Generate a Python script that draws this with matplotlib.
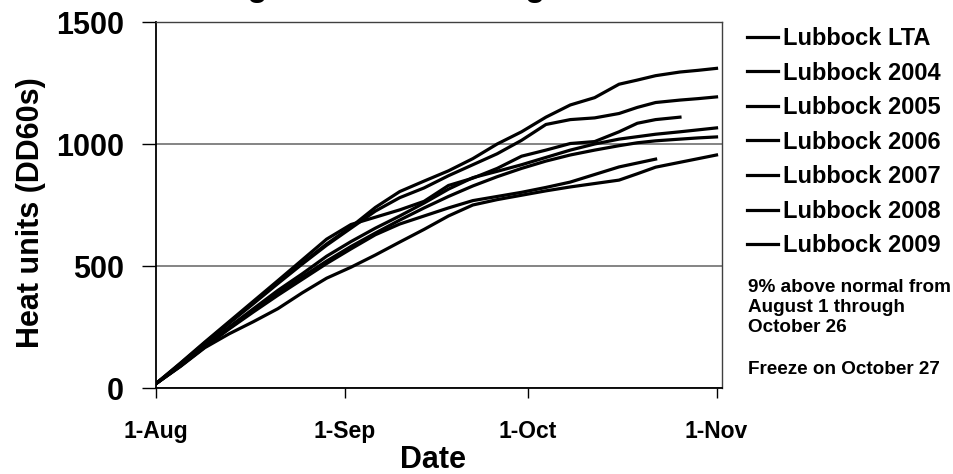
import matplotlib.pyplot as plt

plt.rcParams['font.family'] = ['Liberation Sans', 'DejaVu Sans']
plt.rcParams['font.weight'] = 'bold'
plt.rcParams['axes.labelweight'] = 'bold'

# days after August 1
days = [0, 4, 8, 12, 16, 20, 24, 28, 32, 36, 40, 44, 48, 52, 56, 60, 64, 68, 72, 76, 79, 82, 86, 89, 92]

# cumulative heat units (DD60s)
lta = [18, 90, 168, 244, 318, 388, 455, 520, 580, 635, 688, 738, 785, 828, 866, 900, 930, 955, 975, 993, 1005, 1013, 1020, 1025, 1029]
y2004 = [18, 100, 185, 268, 350, 432, 512, 590, 660, 740, 805, 848, 890, 940, 1000, 1050, 1110, 1160, 1190, 1245, 1262, 1280, 1295, 1302, 1310]
y2005 = [18, 98, 182, 265, 346, 428, 508, 585, 655, 725, 780, 820, 870, 915, 960, 1015, 1080, 1100, 1107, 1125, 1150, 1170, 1180, 1186, 1193]
y2006 = [18, 92, 172, 250, 325, 400, 468, 540, 600, 655, 705, 758, 815, 862, 888, 915, 945, 975, 1000, 1020, 1030, 1040, 1050, 1058, 1066]
y2007 = [18, 90, 168, 242, 312, 380, 445, 510, 570, 628, 672, 705, 738, 768, 785, 802, 822, 844, 875, 906, 922, 938]
y2008 = [18, 88, 165, 222, 272, 325, 390, 450, 495, 545, 598, 650, 705, 750, 772, 790, 808, 824, 838, 852, 878, 905, 925, 940, 955]
y2009 = [18, 102, 188, 272, 356, 440, 525, 610, 670, 700, 730, 765, 830, 860, 900, 950, 975, 1002, 1010, 1050, 1085, 1100, 1110]

labels = ['Lubbock LTA', 'Lubbock 2004', 'Lubbock 2005', 'Lubbock 2006',
          'Lubbock 2007', 'Lubbock 2008', 'Lubbock 2009']
series = [lta, y2004, y2005, y2006, y2007, y2008, y2009]

tick_days = [0, 31, 61, 92]
tick_labels = ['1-Aug', '1-Sep', '1-Oct', '1-Nov']

fig = plt.figure(figsize=(9.54, 4.74), dpi=100)
ax = fig.add_axes([156/954, 1 - 388/474, (722 - 156)/954, (388 - 22)/474])

for lab, vals in zip(labels, series):
    ax.plot(days[:len(vals)], vals, color='black', lw=2.3, label=lab)

ax.set_xlim(0, 92.9)
ax.set_ylim(0, 1500)
ax.set_yticks([0, 500, 1000, 1500])
ax.set_xticks(tick_days)
ax.set_xticklabels(tick_labels)
ax.yaxis.grid(True, color='#707070', lw=1.2)
ax.set_axisbelow(True)

for s in ['left', 'bottom']:
    ax.spines[s].set_color('black')
    ax.spines[s].set_linewidth(1.3)
for s in ['top', 'right']:
    ax.spines[s].set_color('#404040')
    ax.spines[s].set_linewidth(1.0)

ax.tick_params(axis='y', direction='out', length=10, width=1, pad=13, labelsize=22)
ax.tick_params(axis='x', direction='out', length=7, width=1, pad=16, labelsize=16.5)

ax.set_ylabel('Heat units (DD60s)', fontsize=22)
ax.yaxis.set_label_coords((46 - 156)/566, 0.478)
ax.set_xlabel('Date', fontsize=22)
ax.xaxis.set_label_coords(0.49, (388 - 445)/366)

# title sits mostly above the picture, only the descenders show
fig.text(163.5/954, 1 + 3.8/474, 'Strong Heat Units in August', fontsize=23.3,
         va='baseline', ha='left')

fig.legend(loc='upper left', bbox_to_anchor=(747/954, 1 - 27/474), frameon=False,
           fontsize=17, handlelength=1.31, handletextpad=0.21, labelspacing=0.49,
           borderpad=0, borderaxespad=0)

fig.text(748/954, 1 - 279/474, '9% above normal from\nAugust 1 through\nOctober 26',
         fontsize=13.6, va='top', ha='left', linespacing=1.25)
fig.text(748/954, 1 - 370/474, 'Freeze on October 27', fontsize=13.6,
         va='center', ha='left')

fig.savefig('out.png', dpi=100)
